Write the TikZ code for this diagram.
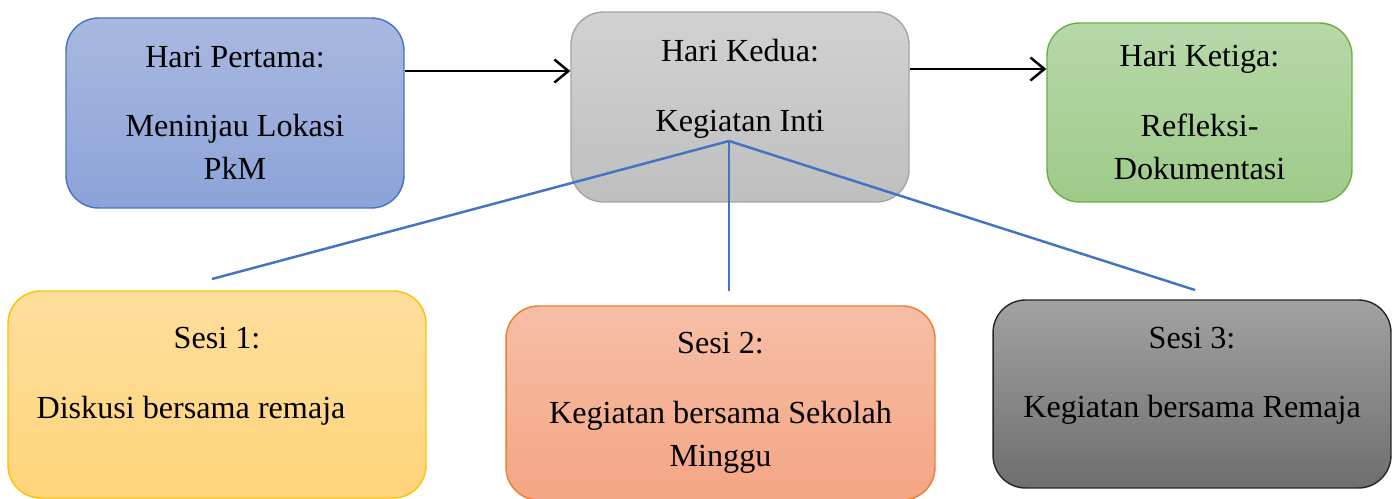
\documentclass[tikz,border=0pt]{standalone}
\usepackage{fontspec}
\setmainfont{Liberation Serif}
\usetikzlibrary{arrows.meta}

\definecolor{blueTop}{HTML}{A9B8E1}
\definecolor{blueBot}{HTML}{8CA3D8}
\definecolor{blueLine}{HTML}{4472C4}
\definecolor{grayTop}{HTML}{D2D2D2}
\definecolor{grayBot}{HTML}{BFBFBF}
\definecolor{grayLine}{HTML}{A5A5A5}
\definecolor{greenTop}{HTML}{B7D8AA}
\definecolor{greenBot}{HTML}{9DCB89}
\definecolor{greenLine}{HTML}{70AD47}
\definecolor{yellowTop}{HTML}{FFDE9C}
\definecolor{yellowBot}{HTML}{FFD47B}
\definecolor{yellowLine}{HTML}{FFC000}
\definecolor{salmonTop}{HTML}{F6BFA6}
\definecolor{salmonBot}{HTML}{F4A584}
\definecolor{salmonLine}{HTML}{ED7D31}
\definecolor{darkTop}{HTML}{A2A2A2}
\definecolor{darkBot}{HTML}{6E6E6E}
\definecolor{darkLine}{HTML}{262626}

\begin{document}
\begin{tikzpicture}[x=0.02cm,y=-0.02cm,
	box/.style={rectangle,rounded corners=0.65cm,line width=0.8pt,inner sep=0pt,
		align=center,font=\fontsize{18.3}{24.5}\selectfont},
	link/.style={line width=1.4pt,-{Straight Barb[length=2.8mm,width=4.6mm,line width=1.4pt]}},
	spoke/.style={line width=1.4pt,draw=blueLine}]
	
	\useasboundingbox (0,0) rectangle (1392,499);
	
	\node[box,draw=blueLine,top color=blueTop,bottom color=blueBot,minimum width=6.76cm,minimum height=3.8cm] (day1) at (235,113) {Hari Pertama:\\[15pt]Meninjau Lokasi\\PkM};
	\node[box,draw=grayLine,top color=grayTop,bottom color=grayBot,minimum width=6.76cm,minimum height=3.8cm] (day2) at (740,107) {Hari Kedua:\\[15pt]Kegiatan Inti\\\mbox{}};
	\node[box,draw=greenLine,top color=greenTop,bottom color=greenBot,minimum width=6.1cm,minimum height=3.58cm] (day3) at (1199.5,112.5) {Hari Ketiga:\\[15pt]Refleksi-\\Dokumentasi};
	
	\node[box,draw=yellowLine,top color=yellowTop,bottom color=yellowBot,minimum width=8.36cm,minimum height=4.14cm] (sesi1) at (217,394.5) {Sesi 1:\\[15pt]Diskusi bersama remaja\makebox[1.04cm]{}\\\mbox{}};
	\node[box,draw=salmonLine,top color=salmonTop,bottom color=salmonBot,minimum width=8.58cm,minimum height=3.88cm] (sesi2) at (720.5,403) {Sesi 2:\\[15pt]Kegiatan bersama Sekolah\\Minggu};
	\node[box,draw=darkLine,top color=darkTop,bottom color=darkBot,minimum width=7.96cm,minimum height=3.76cm] (sesi3) at (1192,394) {Sesi 3:\\[15pt]Kegiatan bersama Remaja\\\mbox{}};
	
	\coordinate (hub) at (729,141);
	\coordinate (end1) at (212,279);
	\coordinate (end2) at (729,291);
	\coordinate (end3) at (1195,290);
	
	\draw[link] ([yshift=0.84cm]day1.east) to ([yshift=0.84cm]day1.east -| day2.west);
	\draw[link] ([yshift=0.76cm]day2.east) to ([yshift=0.76cm]day2.east -| day3.west);
	
	\draw[spoke] (hub) to (end1);
	\draw[spoke] (hub) to (end2);
	\draw[spoke] (hub) to (end3);
	
\end{tikzpicture}
\end{document}
